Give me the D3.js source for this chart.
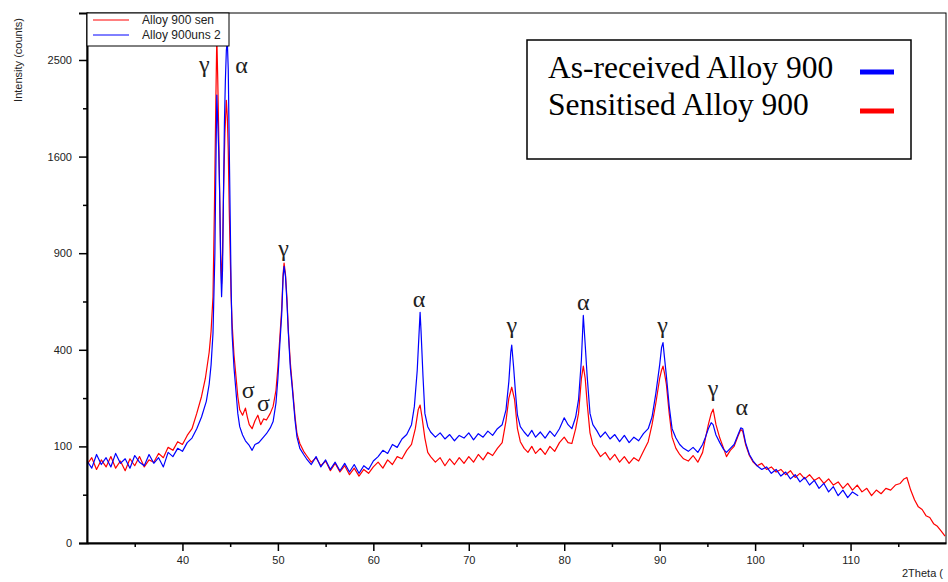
<!DOCTYPE html>
<html>
<head>
<meta charset="utf-8">
<script src="https://cdn.jsdelivr.net/npm/d3@7"></script>
<style>
  body { margin: 0; background: #fff; }
  svg { display: block; }
  .tick text { font-family: "Liberation Sans", Arial, sans-serif; font-size: 11px; fill: #222; }
</style>
</head>
<body>
<svg id="chart" width="948" height="582"></svg>
<script>
// 2theta (deg) and intensity (counts)
const receivedTheta = [30,30.5,31,31.5,32,32.5,33,33.5,34,34.5,35,35.5,36,36.5,37,37.5,38,38.5,39,39.5,40,40.5,41,41.5,42,42.5,42.8,43,43.2,43.4,43.5,43.6,43.7,43.8,43.9,44,44.1,44.2,44.3,44.4,44.5,44.6,44.7,44.8,44.9,45,45.1,45.2,45.4,45.6,45.8,46,46.3,46.6,47,47.3,47.6,48,48.4,48.8,49.2,49.5,49.8,50,50.2,50.4,50.55,50.65,50.8,50.95,51.1,51.3,51.5,51.8,52,52.3,52.7,53,53.5,54,54.5,55,55.5,56,56.5,57,57.5,58,58.5,59,59.5,60,60.5,61,61.5,62,62.5,63,63.5,64,64.3,64.6,64.8,64.9,65,65.2,65.4,65.7,66,66.5,67,67.5,68,68.5,69,69.5,70,70.5,71,71.5,72,72.5,73,73.5,73.9,74.2,74.4,74.5,74.7,74.9,75.1,75.4,75.8,76.2,76.6,77,77.5,78,78.5,79,79.5,80,80.4,80.8,81.2,81.5,81.8,82,82.2,82.4,82.7,83,83.4,83.8,84.3,84.8,85.3,85.8,86.3,86.8,87.3,87.8,88.3,88.8,89.2,89.6,90,90.2,90.35,90.5,90.7,91,91.3,91.7,92.1,92.5,93,93.5,94,94.5,94.8,95.1,95.4,95.6,95.9,96.3,96.7,97,97.4,97.8,98.2,98.5,98.7,99,99.4,99.8,100.2,100.7,101.2,101.7,102.2,102.7,103.2,103.7,104.2,104.7,105.2,105.7,106.2,106.7,107.2,107.7,108.2,108.7,109.2,109.7,110.2,110.8];
const receivedCounts = [72,60,84,66,78,62,86,68,76,60,82,70,64,84,68,78,62,88,80,96,90,108,118,140,170,215,270,340,470,900,1500,2150,1900,1650,1300,850,650,800,1300,1900,2300,2600,2700,2400,1700,1150,700,470,330,250,180,145,125,112,102,92,104,108,118,128,142,158,210,290,420,560,760,820,760,620,470,330,260,160,120,96,84,76,66,80,62,74,58,70,56,68,54,66,52,64,58,72,80,92,86,104,98,116,126,150,200,320,480,570,480,300,180,145,132,120,130,116,126,112,124,118,130,114,128,120,134,124,140,150,190,280,390,420,330,240,175,145,132,122,136,120,132,118,134,122,140,168,150,140,170,220,360,555,420,300,180,150,136,120,132,116,126,110,124,108,120,112,128,140,170,240,340,410,430,370,300,200,140,118,104,96,90,98,88,104,120,140,155,150,125,108,94,88,96,104,125,142,140,108,84,72,64,58,62,52,58,48,54,44,50,40,46,36,42,32,38,28,34,24,30,22,28,24];

const sensitisedTheta = [30,30.5,31,31.5,32,32.5,33,33.5,34,34.5,35,35.5,36,36.5,37,37.5,38,38.5,39,39.5,40,40.5,41,41.5,42,42.4,42.8,43,43.2,43.35,43.5,43.6,43.7,43.8,43.9,44,44.1,44.2,44.3,44.45,44.6,44.7,44.8,44.9,45,45.1,45.2,45.4,45.6,45.8,46,46.3,46.6,46.8,47,47.3,47.6,47.9,48.2,48.5,48.8,49.2,49.5,49.8,50,50.2,50.4,50.55,50.65,50.8,50.95,51.1,51.3,51.5,51.8,52,52.3,52.7,53,53.5,54,54.5,55,55.5,56,56.5,57,57.5,58,58.5,59,59.5,60,60.5,61,61.5,62,62.5,63,63.5,64,64.4,64.7,64.9,65.1,65.4,65.7,66,66.5,67,67.5,68,68.5,69,69.5,70,70.5,71,71.5,72,72.5,73,73.5,73.9,74.2,74.5,74.8,75.1,75.4,75.8,76.2,76.6,77,77.5,78,78.5,79,79.5,80,80.4,80.8,81.2,81.5,81.8,82,82.2,82.4,82.7,83,83.4,83.8,84.3,84.8,85.3,85.8,86.3,86.8,87.3,87.8,88.3,88.8,89.2,89.6,90,90.2,90.35,90.5,90.7,91,91.3,91.7,92.1,92.5,93,93.5,94,94.5,94.8,95.1,95.4,95.6,95.9,96.3,96.7,97,97.4,97.8,98.2,98.5,98.7,99,99.4,99.8,100.2,100.7,101.2,101.7,102.2,102.7,103.2,103.7,104.2,104.7,105.2,105.7,106.2,106.7,107.2,107.7,108.2,108.7,109.2,109.7,110.2,110.7,111.2,111.7,112.2,112.7,113.2,113.7,114.2,114.7,115.2,115.6,115.9,116.3,116.7,117.1,117.5,117.9,118.3,118.7,119.1,119.5,119.9];
const sensitisedCounts = [66,78,58,74,62,80,60,72,56,76,64,80,62,74,70,86,78,98,92,110,104,124,140,180,230,290,390,480,650,1200,2100,2750,2300,1800,1300,900,720,900,1300,1800,2100,1950,1650,1200,900,650,520,380,300,230,190,175,195,170,150,140,160,175,150,165,162,180,200,250,330,450,590,780,840,770,640,480,350,270,170,128,106,90,82,70,78,64,72,56,68,54,64,50,60,48,58,52,62,70,60,74,66,80,76,92,104,140,190,204,170,118,88,80,70,78,64,76,66,78,68,80,70,84,74,88,82,96,108,160,225,260,220,140,110,96,88,100,86,96,84,100,90,108,120,108,106,140,180,290,335,290,210,130,104,92,80,88,74,84,70,80,68,78,72,90,110,150,210,290,320,335,310,270,180,120,96,84,76,72,82,70,88,118,150,180,192,150,118,96,80,92,100,122,138,134,104,82,70,64,68,58,62,54,58,50,56,46,52,44,50,42,46,38,44,36,40,32,38,30,36,28,32,24,30,26,32,30,36,38,44,46,30,20,14,12,8,7,4,3,1.5,0.5];

const yMajor = [0, 100, 400, 900, 1600, 2500];
const yMinor = [25, 225, 625, 1225, 2025];
const xMajor = [40, 50, 60, 70, 80, 90, 100, 110];
const xMinor = [35, 45, 55, 65, 75, 85, 95, 105, 115];

const phaseLabels = ["γ", "α", "σ", "σ", "γ", "α", "γ", "α", "γ", "γ", "α"];
const phaseTheta  = [42.3, 46.2, 46.9, 48.5, 50.6, 64.8, 74.5, 82.0, 90.3, 95.6, 98.6];
const phaseCounts = [2377, 2367, 225, 187, 883, 597, 473, 582, 473, 232, 176];

const seriesNames = ["Alloy 900 sen", "Alloy 900uns 2"];
const legendNames = ["As-received Alloy 900", "Sensitised Alloy 900"];
const colors = ["#ff0000", "#0000ff"];

const svg = d3.select("#chart"),
  margin = {top: 13, left: 87, bottom: 39, right: 2},
  width = +svg.attr("width"),
  height = +svg.attr("height");

const x = d3.scaleLinear()
  .domain([30, 120])
  .range([margin.left, width - margin.right]);

const y = d3.scaleSqrt()
  .domain([0, 3010])
  .range([height - margin.bottom, margin.top]);

svg.append("clipPath").attr("id", "plot")
  .append("rect")
  .attr("x", margin.left).attr("y", margin.top)
  .attr("width", width - margin.right - margin.left)
  .attr("height", height - margin.bottom - margin.top);

// frame
svg.append("rect")
  .attr("x", margin.left).attr("y", margin.top)
  .attr("width", width - margin.right - margin.left)
  .attr("height", height - margin.bottom - margin.top)
  .attr("fill", "none").attr("stroke", "#000").attr("stroke-width", 1);

// curves: sensitised under, as-received on top
const line = d3.line().x(d => x(d[0])).y(d => y(d[1]));
const curves = [
  d3.zip(sensitisedTheta, sensitisedCounts),
  d3.zip(receivedTheta, receivedCounts)
];
svg.append("g").attr("clip-path", "url(#plot)")
  .selectAll("path")
  .data(curves)
  .join("path")
    .attr("d", line)
    .attr("fill", "none")
    .attr("stroke", (d, i) => colors[i])
    .attr("stroke-width", 1.2)
    .attr("stroke-linejoin", "round");

// axes
svg.append("g")
  .attr("transform", `translate(${margin.left},0)`)
  .call(d3.axisLeft(y).tickValues(yMajor).tickSize(8).tickPadding(7).tickFormat(d3.format("d")));
svg.append("g")
  .attr("transform", `translate(${margin.left},0)`)
  .call(d3.axisLeft(y).tickValues(yMinor).tickSize(4).tickFormat(""))
  .select(".domain").remove();

svg.append("g")
  .attr("transform", `translate(0,${height - margin.bottom})`)
  .call(d3.axisBottom(x).tickValues(xMajor).tickSize(8).tickSizeOuter(0).tickPadding(5));
svg.append("g")
  .attr("transform", `translate(0,${height - margin.bottom})`)
  .call(d3.axisBottom(x).tickValues(xMinor).tickSize(4).tickFormat(""))
  .select(".domain").remove();

svg.selectAll(".domain").attr("stroke-width", 2);
svg.selectAll(".tick line").attr("stroke-width", 1.5);

svg.append("text")
  .attr("transform", "translate(22,60) rotate(-90)")
  .attr("text-anchor", "middle")
  .style("font-family", "Liberation Sans, Arial, sans-serif")
  .style("font-size", "11px")
  .attr("fill", "#222")
  .text("Intensity (counts)");

// axis title is cut at the page edge in the original, only this part shows
svg.append("text")
  .attr("x", 902).attr("y", 577)
  .style("font-family", "Liberation Sans, Arial, sans-serif")
  .style("font-size", "11px")
  .attr("fill", "#222")
  .text("2Theta (");

// phase labels
svg.append("g")
  .selectAll("text")
  .data(phaseLabels)
  .join("text")
    .attr("x", (d, i) => x(phaseTheta[i]))
    .attr("y", (d, i) => y(phaseCounts[i]))
    .attr("text-anchor", "middle")
    .style("font-family", "Liberation Serif, Times New Roman, serif")
    .style("font-size", "24px")
    .attr("fill", "#222")
    .text(d => d);

// small instrument legend
const small = svg.append("g").attr("transform", `translate(${margin.left},${margin.top})`);
small.append("rect")
  .attr("width", 142).attr("height", 33)
  .attr("fill", "#fff").attr("stroke", "#000");
small.selectAll("line")
  .data(seriesNames)
  .join("line")
    .attr("x1", 6).attr("x2", 42)
    .attr("y1", (d, i) => 7 + i * 15).attr("y2", (d, i) => 7 + i * 15)
    .attr("stroke", (d, i) => colors[i]);
small.selectAll("text")
  .data(seriesNames)
  .join("text")
    .attr("x", 55)
    .attr("y", (d, i) => 11 + i * 15)
    .style("font-family", "Liberation Sans, Arial, sans-serif")
    .style("font-size", "12px")
    .attr("fill", "#222")
    .text(d => d);

// big legend
const big = svg.append("g").attr("transform", "translate(527,40)");
big.append("rect")
  .attr("width", 384).attr("height", 119)
  .attr("fill", "#fff").attr("stroke", "#000").attr("stroke-width", 1.5);
big.selectAll("text")
  .data(legendNames)
  .join("text")
    .attr("x", 21)
    .attr("y", (d, i) => 38 + i * 37)
    .style("font-family", "Liberation Serif, Times New Roman, serif")
    .style("font-size", "31.5px")
    .attr("fill", "#000")
    .text(d => d);
big.selectAll("line")
  .data(legendNames)
  .join("line")
    .attr("x1", 333).attr("x2", 367)
    .attr("y1", (d, i) => 32 + i * 39).attr("y2", (d, i) => 32 + i * 39)
    .attr("stroke", (d, i) => colors[1 - i])
    .attr("stroke-width", 5);
</script>
</body>
</html>
